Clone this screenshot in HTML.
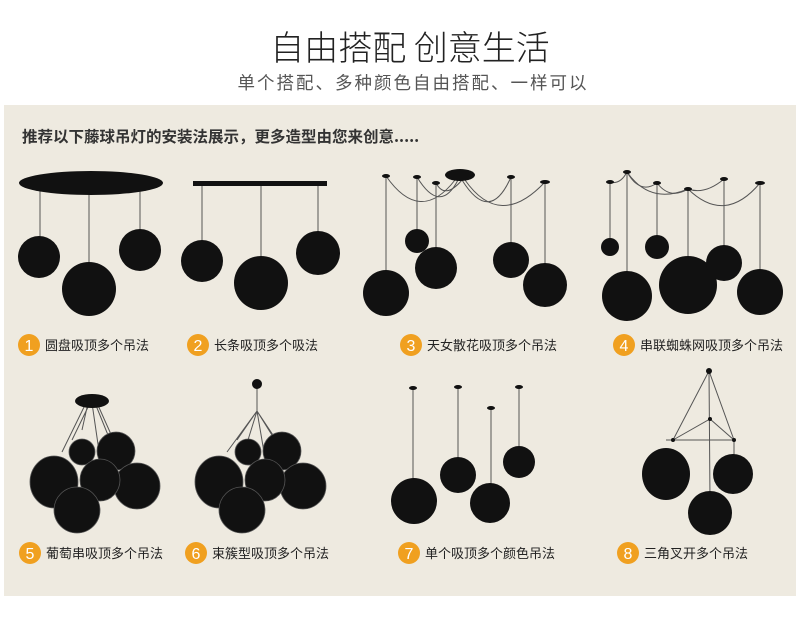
<!DOCTYPE html>
<html><head><meta charset="utf-8"><style>
html,body{margin:0;padding:0;background:#fff;}
body{width:800px;height:618px;overflow:hidden;position:relative;font-family:"Liberation Sans","Noto Sans CJK SC",sans-serif;}
</style></head><body>
<svg width="800" height="618" viewBox="0 0 800 618" xmlns="http://www.w3.org/2000/svg" style="position:absolute;left:0;top:0">
<rect x="0" y="0" width="800" height="618" fill="#fff"/>
<text x="410" y="60" font-size="34" text-anchor="middle" fill="#222" font-family="Noto Sans CJK SC, sans-serif" font-weight="300">自由搭配 创意生活</text>
<text x="413" y="89" font-size="17.5" text-anchor="middle" fill="#555" letter-spacing="2" font-family="Noto Sans CJK SC, sans-serif">单个搭配、多种颜色自由搭配、一样可以</text>
<rect x="4" y="105" width="792" height="491" fill="#eeeae0"/>
<text x="22" y="142" font-size="15.5" fill="#333" font-family="Noto Sans CJK SC, sans-serif" font-weight="bold">推荐以下藤球吊灯的安装法展示，更多造型由您来创意.....</text>

<g stroke="#555" stroke-width="1" fill="none">
<!-- panel1 -->
<line x1="40" y1="190" x2="40" y2="240"/><line x1="89" y1="190" x2="89" y2="265"/><line x1="140" y1="190" x2="140" y2="232"/>
<!-- panel2 -->
<line x1="202" y1="185" x2="202" y2="243"/><line x1="261" y1="185" x2="261" y2="260"/><line x1="318" y1="185" x2="318" y2="235"/>
<!-- panel3 -->
<line x1="386" y1="176" x2="386" y2="275"/><line x1="417" y1="177" x2="417" y2="232"/><line x1="436" y1="183" x2="436" y2="250"/><line x1="511" y1="177" x2="511" y2="245"/><line x1="545" y1="182" x2="545" y2="265"/>
<path d="M386 176 Q420 225 455 180"/><path d="M417 177 Q440 215 458 180"/><path d="M436 183 Q445 200 462 180"/>
<path d="M462 180 Q490 225 511 177"/><path d="M465 180 Q500 230 545 182"/>
<!-- panel4 -->
<line x1="610" y1="182" x2="610" y2="240"/><line x1="627" y1="172" x2="627" y2="272"/><line x1="657" y1="183" x2="657" y2="236"/><line x1="688" y1="189" x2="688" y2="258"/><line x1="724" y1="179" x2="724" y2="246"/><line x1="760" y1="183" x2="760" y2="270"/>
<path d="M610 182 Q620 185 627 172"/><path d="M627 172 Q640 195 657 183"/><path d="M657 183 Q670 200 688 189"/><path d="M688 189 Q705 195 724 179"/><path d="M688 189 Q725 225 760 183"/><path d="M627 172 Q650 205 688 189"/>
<!-- panel5 -->
<path d="M86 403 L62 452 M88 403 L82 430 M92 403 L100 458 M95 403 L110 440 M97 403 L118 450 M90 403 L72 440"/>
<!-- panel6 -->
<line x1="257" y1="385" x2="257" y2="411"/>
<path d="M257 411 L227 452 M257 411 L248 440 M257 411 L265 458 M257 411 L275 440 M257 411 L283 450 M257 411 L237 440"/>
<!-- panel7 -->
<line x1="413" y1="388" x2="413" y2="480"/><line x1="458" y1="387" x2="458" y2="460"/><line x1="491" y1="408" x2="491" y2="485"/><line x1="519" y1="387" x2="519" y2="448"/>
<!-- panel8 -->
<path d="M709 371 L673 440 M709 371 L734 440 M709 371 L710 500 M673 440 L734 440 M673 440 L710 419 L734 440"/>
<line x1="666" y1="440" x2="673" y2="440"/><line x1="734" y1="440" x2="734" y2="456"/>
</g>
<g fill="#111">
<ellipse cx="91" cy="183" rx="72" ry="12"/>
<circle cx="39" cy="257" r="21"/><circle cx="89" cy="289" r="27"/><circle cx="140" cy="250" r="21"/>
<rect x="193" y="181" width="134" height="5"/>
<circle cx="202" cy="261" r="21"/><circle cx="261" cy="283" r="27"/><circle cx="318" cy="253" r="22"/>
<ellipse cx="460" cy="175" rx="15" ry="6"/>
<ellipse cx="386" cy="176" rx="4" ry="2"/><ellipse cx="417" cy="177" rx="4" ry="2"/><ellipse cx="436" cy="183" rx="4" ry="2"/><ellipse cx="511" cy="177" rx="4" ry="2"/><ellipse cx="545" cy="182" rx="5" ry="2"/>
<circle cx="386" cy="293" r="23"/><circle cx="417" cy="241" r="12"/><circle cx="436" cy="268" r="21"/><circle cx="511" cy="260" r="18"/><circle cx="545" cy="285" r="22"/>
<ellipse cx="610" cy="182" rx="4" ry="2"/><ellipse cx="627" cy="172" rx="4" ry="2"/><ellipse cx="657" cy="183" rx="4" ry="2"/><ellipse cx="688" cy="189" rx="4" ry="2"/><ellipse cx="724" cy="179" rx="4" ry="2"/><ellipse cx="760" cy="183" rx="5" ry="2"/>
<circle cx="610" cy="247" r="9"/><circle cx="627" cy="296" r="25"/><circle cx="657" cy="247" r="12"/><circle cx="688" cy="285" r="29"/><circle cx="724" cy="263" r="18"/><circle cx="760" cy="292" r="23"/>
<ellipse cx="92" cy="401" rx="17" ry="7"/>
<g stroke="#555" stroke-width="0.8">
<circle cx="82" cy="452" r="13"/><circle cx="116" cy="451" r="19"/><ellipse cx="54" cy="482" rx="24" ry="26"/><circle cx="137" cy="486" r="23"/><ellipse cx="100" cy="480" rx="20" ry="21"/><circle cx="77" cy="510" r="23"/>
</g>
<circle cx="257" cy="384" r="5"/>
<g stroke="#555" stroke-width="0.8">
<circle cx="248" cy="452" r="13"/><circle cx="282" cy="451" r="19"/><ellipse cx="219" cy="482" rx="24" ry="26"/><circle cx="303" cy="486" r="23"/><ellipse cx="265" cy="480" rx="20" ry="21"/><circle cx="242" cy="510" r="23"/>
</g>
<ellipse cx="413" cy="388" rx="4" ry="2"/><ellipse cx="458" cy="387" rx="4" ry="2"/><ellipse cx="491" cy="408" rx="4" ry="2"/><ellipse cx="519" cy="387" rx="4" ry="2"/>
<circle cx="414" cy="501" r="23"/><circle cx="458" cy="475" r="18"/><circle cx="490" cy="503" r="20"/><circle cx="519" cy="462" r="16"/>
<circle cx="709" cy="371" r="3"/><circle cx="710" cy="419" r="2"/><circle cx="673" cy="440" r="2"/><circle cx="734" cy="440" r="2"/>
<ellipse cx="666" cy="474" rx="24" ry="26"/><circle cx="733" cy="474" r="20"/><circle cx="710" cy="513" r="22"/>
</g>

<g font-family="Liberation Sans, sans-serif" font-size="16" fill="#fff" text-anchor="middle">
<circle cx="29" cy="345" r="11" fill="#f0a020"/><text x="29" y="351">1</text>
<circle cx="198" cy="345" r="11" fill="#f0a020"/><text x="198" y="351">2</text>
<circle cx="411" cy="345" r="11" fill="#f0a020"/><text x="411" y="351">3</text>
<circle cx="624" cy="345" r="11" fill="#f0a020"/><text x="624" y="351">4</text>
<circle cx="30" cy="553" r="11" fill="#f0a020"/><text x="30" y="559">5</text>
<circle cx="196" cy="553" r="11" fill="#f0a020"/><text x="196" y="559">6</text>
<circle cx="409" cy="553" r="11" fill="#f0a020"/><text x="409" y="559">7</text>
<circle cx="628" cy="553" r="11" fill="#f0a020"/><text x="628" y="559">8</text>
</g>
<g font-family="Noto Sans CJK SC, sans-serif" font-size="13" fill="#222">
<text x="45" y="350">圆盘吸顶多个吊法</text>
<text x="214" y="350">长条吸顶多个吸法</text>
<text x="427" y="350">天女散花吸顶多个吊法</text>
<text x="640" y="350">串联蜘蛛网吸顶多个吊法</text>
<text x="46" y="558">葡萄串吸顶多个吊法</text>
<text x="212" y="558">束簇型吸顶多个吊法</text>
<text x="425" y="558">单个吸顶多个颜色吊法</text>
<text x="644" y="558">三角叉开多个吊法</text>
</g>
</svg>
</body></html>
